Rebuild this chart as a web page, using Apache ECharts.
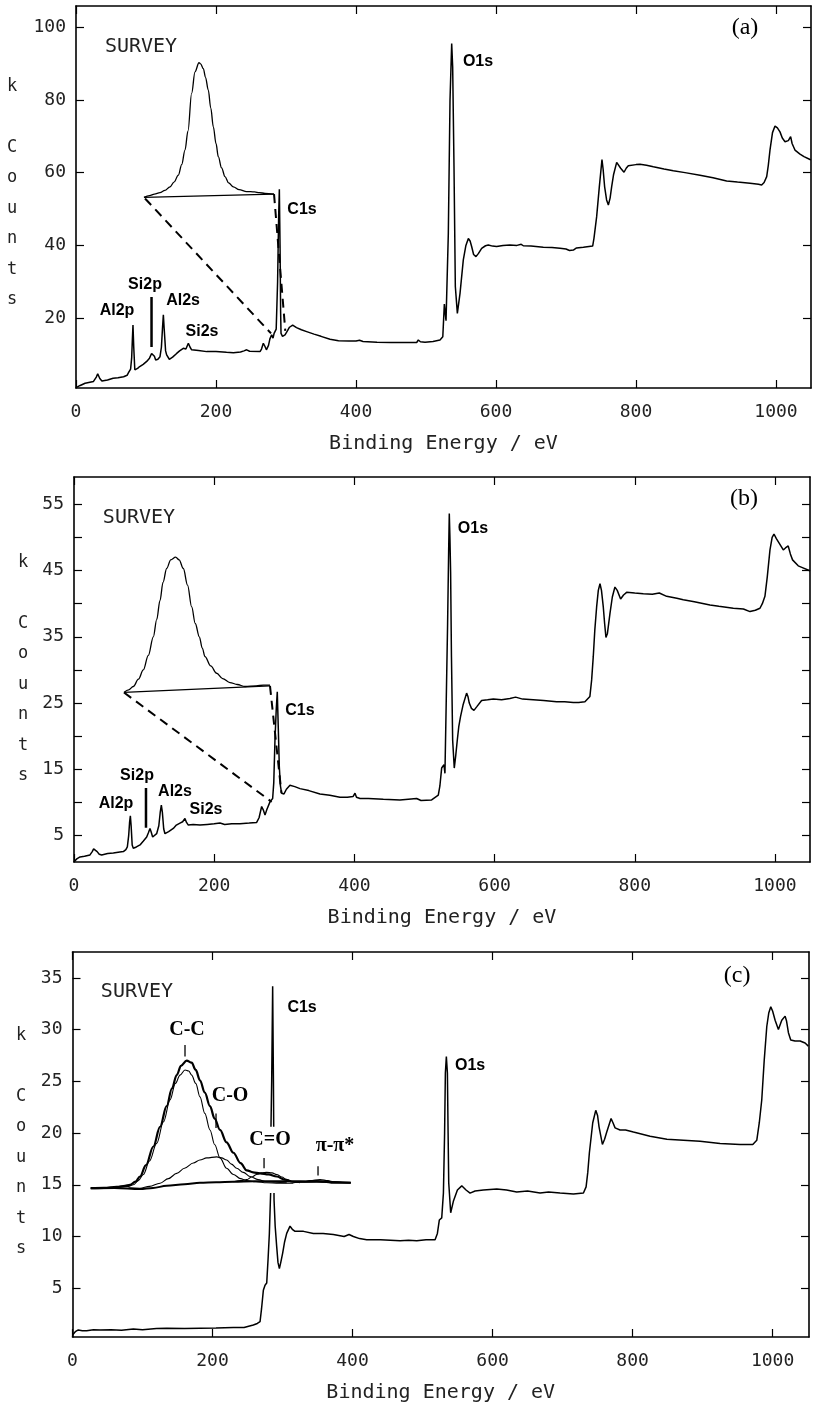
<!DOCTYPE html>
<html>
<head>
<meta charset="utf-8">
<title>XPS survey spectra</title>
<script src="https://cdn.jsdelivr.net/npm/echarts@6/dist/echarts.min.js"></script>
<style>
  html, body { margin: 0; padding: 0; background: #fff; }
  #chart { width: 815px; height: 1405px; }
</style>
</head>
<body>
<div id="chart"></div>
<script>
// tick values shared by the three panels
const xTicks = [0, 200, 400, 600, 800, 1000]
const yTicksA = [20, 40, 60, 80, 100]
const yTicksB = [5, 10, 15, 20, 25, 30, 35, 40, 45, 50, 55]
const yLabelsB = [5, 15, 25, 35, 45, 55]
const yTicksC = [5, 10, 15, 20, 25, 30, 35]

// ---- panel (a) : [binding energy eV, k counts]
const surveyA = [[0,0.9],[6,1.5],[13,2.1],[25,2.6],[29,3.8],[31,4.7],[34,3.4],[37,2.7],[45,3.0],[53,3.5],[60,3.6],[68,3.9],[73,4.3],[75,5.0],[78,6.0],[79.5,9],[80.5,14],[81.4,18.1],[82.5,12],[84,5.8],[88,6.2],[91,6.7],[96,7.3],[101,8.1],[105,9.0],[108,10.3],[110.5,10.8],[112,9.5],[113.8,8.5],[117,8.7],[120,9.4],[122,12],[123.5,17],[124.8,20.9],[126,17],[128,11],[129.5,9.9],[133.3,8.7],[138,9.3],[143.8,10.3],[148,11.0],[153.3,11.7],[157,11.5],[160.5,13.1],[163,12.0],[165.2,11.3],[175,11.1],[186.7,10.8],[200,10.8],[215,10.6],[224.8,10.5],[235,10.7],[240,11.0],[243.8,11.3],[248,10.9],[262.9,10.8],[265,11.5],[267.6,13.1],[270,12.2],[272,11.3],[275,12.5],[277,14.3],[279.5,15.4],[281.5,14.5],[283,15.8],[286,17],[288,30],[289.5,48],[290.5,55.4],[291.5,40],[292.3,22],[292.9,15.8],[295,15.0],[298.6,15.4],[302,16.5],[305,17.5],[309.5,18.1],[315,17.4],[322,16.8],[329.5,16.3],[340,15.6],[350,15.0],[362.9,14.2],[375,13.8],[390,13.7],[400,13.7],[405,13.9],[410,13.6],[430,13.4],[450,13.3],[470,13.3],[478,13.3],[486.7,13.3],[489,14.0],[492,13.5],[498.6,13.4],[510,13.6],[520,14.0],[524,14.9],[526.2,23.9],[528.6,19.3],[531.9,43.3],[534.3,79.9],[536.7,95.5],[538.1,89.1],[540,61.6],[541.9,28.7],[544.8,21.3],[548.6,26.8],[553.3,36],[557,40],[560.5,41.9],[563,41.2],[565.2,39.7],[568,37.5],[571.4,36.9],[575,37.8],[579.5,39.2],[585,39.9],[589,40.1],[595,39.8],[600.9,39.7],[610,40.0],[619.9,40.1],[630,40.0],[636,40.3],[639,39.9],[650,39.8],[667.6,39.5],[680,39.4],[691.4,39.2],[700,39.0],[705,38.6],[710.5,38.7],[715,39.3],[724.8,39.5],[738.1,39.8],[740,42],[743.8,47.9],[747.6,56.1],[751.4,63.6],[753,61],[755.2,56.1],[758,52.5],[760.5,51.1],[763,53],[765.2,56.1],[768,59.5],[772.4,62.8],[775,62.5],[778.1,61.2],[782.9,60.1],[786,61.2],[789,61.9],[800,62.2],[805.7,62.3],[815,62.0],[824.8,61.6],[840,61.0],[853.3,60.5],[870,60.0],[891.4,59.3],[910,58.6],[929.5,57.7],[945,57.4],[962.9,57.1],[975,56.8],[979.5,56.6],[983,57.3],[986.7,58.9],[989,62],[991.4,66.2],[995,71],[998.6,72.8],[1002,72.3],[1005.7,71.2],[1009,69.5],[1012.9,68.5],[1017.6,68.8],[1020.9,69.9],[1023,68],[1027.1,66.2],[1034.3,65.1],[1040,64.4],[1048.6,63.6],[1050,63.5]]
const insetA = [[97.1,53.2],[105,53.7],[112,54.1],[120,54.5],[127,55.1],[134.3,56.1],[140,57.4],[146.2,59.3],[151,62.2],[155.7,66.2],[160,71.5],[165.2,81.8],[170,87.7],[175.7,90.2],[178,89.9],[181.9,88.6],[185,86.2],[189,82.7],[192.5,77.8],[196.2,72.6],[200,68],[203.3,64.4],[208,61.3],[212.9,58.9],[218,57.2],[224.8,56.1],[233,55.3],[243.8,54.8],[255,54.7],[262,54.5],[270,54.3],[282.9,54.1]]
const insetBaseA = [[97.1,53.2],[282.9,54.1]]
const dashLeftA = [[98.6,52.9],[278.6,15.8]]
const dashRightA = [[282.9,54.1],[299,16.5]]
const si2pMarkA = [[107.9,25.8],[107.9,12.1]]
const peakLabelsA = [[58.6,22.0,'Al2p'],[98.6,29.1,'Si2p'],[152.9,24.7,'Al2s'],[180,16.2,'Si2s'],[322.9,49.7,'C1s'],[574.3,90.4,'O1s']]
const surveyTagA = [[92.9,94.5,'SURVEY']]
const panelTagA = [[955.7,99.7,'(a)']]

// ---- panel (b)
const surveyB = [[0,1.08],[4,1.5],[8.6,1.8],[15,1.9],[22.8,2.1],[26,2.6],[28,3.0],[30,3.2],[33,2.6],[36,2.2],[39.5,2.1],[48,2.3],[56.1,2.4],[63,2.5],[70.4,2.6],[74,2.9],[76.1,3.3],[78,5],[79.3,7],[80.4,8.0],[81.5,6.5],[83,3.6],[84.6,3.1],[89,3.3],[94.2,3.6],[99,4.2],[103.7,4.8],[106,5.4],[108.4,6.1],[110,5.6],[112.2,4.8],[115,5.0],[117.9,5.3],[121,6.5],[123,8.5],[124.6,9.6],[126,8.6],[128,6.0],[129.8,5.3],[135,5.6],[141.7,6.1],[146,6.6],[151.2,6.9],[155,7.1],[158.3,7.6],[160.5,7.0],[163.1,6.6],[170,6.7],[179.7,6.6],[190,6.7],[200,6.8],[208.3,6.9],[215,6.7],[225,6.8],[236.8,6.8],[250,6.9],[260.6,7.0],[264,7.7],[267.7,9.4],[270,8.9],[272.5,8.1],[275,8.9],[279.6,10.1],[283.4,10.6],[285,13],[286.7,19.4],[288.5,24],[290,26.7],[291.5,21],[292.9,15.4],[294.5,12.5],[296.2,11.4],[299.6,11.3],[303,12.0],[308.1,12.6],[315,12.4],[322.4,12.1],[335,11.8],[350.9,11.3],[365,11.1],[379.4,10.8],[390,10.8],[398,10.9],[400.9,11.4],[403,10.8],[408,10.6],[420,10.6],[441.3,10.5],[465,10.4],[488.8,10.6],[495,10.3],[510.2,10.4],[519.7,11.1],[522,12.5],[524.5,15.2],[527.8,15.7],[529.2,14.4],[531,25],[533,37],[534.5,48],[535.4,53.6],[536.3,50],[537.3,44.6],[538.5,32],[540.2,19.4],[542.5,15.2],[544.5,17],[546.8,19.4],[549,21.5],[551.5,23],[555,24.7],[560.1,26.5],[562,26],[563.9,25],[567,24.2],[570.6,23.9],[575,24.5],[581.5,25.4],[590,25.5],[598.2,25.6],[610,25.5],[621.9,25.7],[630,25.9],[640,25.6],[655.2,25.5],[670,25.4],[688.5,25.2],[700,25.2],[712.3,25.1],[720,25.1],[728.9,25.2],[736,26],[738.5,28.5],[740.8,32],[743,36],[745.6,39.5],[748,42],[750.4,43],[752.5,42],[755.1,39.5],[757,37],[758.9,34.9],[761,35.5],[764.6,38.5],[768,41],[771.7,42.5],[775,42],[779.8,40.7],[784,41.3],[788.4,41.7],[800,41.6],[812.2,41.5],[825,41.4],[835,41.6],[845.5,41.1],[860,40.8],[869.2,40.6],[885,40.3],[907.3,39.8],[920,39.6],[940.6,39.3],[955,39.2],[964.4,38.8],[972,39.0],[978.6,39.3],[982,40],[985.7,41.1],[989,44],[992.9,48.1],[996,50],[998.6,50.5],[1002,49.8],[1006.2,49.1],[1011.9,48.1],[1015,48.4],[1018.9,48.7],[1022,47.5],[1025.1,46.6],[1033.2,45.7],[1040,45.4],[1048.9,45],[1050,44.9]]
const insetB = [[71.3,26.6],[78,27.0],[84.6,27.5],[92,28.6],[98.9,30.0],[106,32.2],[113.2,35.0],[118,37.6],[122.7,40.5],[127,43.2],[132.2,45.3],[138,46.6],[145,47.0],[150,46.6],[156,45.3],[162,42.8],[167.9,39.5],[173,37.0],[178.8,35.0],[183,33.3],[186.9,32.0],[195,30.6],[203.5,29.5],[212,28.7],[222.5,28.1],[233,27.8],[243.9,27.5],[260,27.6],[270,27.7],[279.6,27.7]]
const insetBaseB = [[71.3,26.6],[279.6,27.6]]
const dashLeftB = [[71.3,26.6],[282,10.1]]
const dashRightB = [[279.6,27.6],[296,11.4]]
const si2pMarkB = [[102.7,12.2],[102.7,6.2]]
const peakLabelsB = [[59.9,9.8,'Al2p'],[89.9,14.0,'Si2p'],[144.1,11.6,'Al2s'],[188.3,8.9,'Si2s'],[322.4,23.8,'C1s'],[569.2,51.3,'O1s']]
const surveyTagB = [[92.7,52.9,'SURVEY']]
const panelTagB = [[955.8,55.8,'(b)']]

// ---- panel (c), the C1s spike is interrupted where it crosses the inset
const surveyLowC = [[0,0.48],[4,0.8],[8.3,0.97],[14,0.9],[20.2,0.9],[30,1.0],[39.3,0.97],[55,1.0],[70,0.95],[86.9,1.06],[100,1.0],[120,1.1],[134.5,1.13],[160,1.1],[182.1,1.13],[205,1.15],[229.8,1.22],[245,1.2],[258.3,1.45],[264,1.6],[267.9,1.77],[270,3.0],[272.6,4.8],[275,5.3],[277.4,5.5],[279.5,8],[281.2,10.3],[283.0,14.2]]
const c1sSpikeC = [[283.5,20.6],[284.5,25],[285.9,34.2],[287,25],[287.4,20.6]]
const surveyHighC = [[287.8,14.2],[287.9,13.5],[289.5,11],[291.7,9.0],[293.5,7.5],[295.5,6.9],[297.5,7.5],[300.2,8.4],[303,9.5],[305.95,10.3],[310.7,11.0],[314,10.7],[317.9,10.5],[330,10.5],[344,10.3],[358,10.3],[372.6,10.2],[388,10.0],[395,10.2],[401.2,10.0],[410,9.8],[420.2,9.7],[440,9.7],[467.9,9.6],[480,9.65],[491.7,9.6],[505,9.7],[517.9,9.7],[521.2,10.3],[524,11.6],[527.4,11.8],[529.8,14.2],[531.5,20],[532.6,25.8],[534.0,27.4],[535.5,25.8],[536.5,20],[537.4,15.2],[540.2,12.3],[544,13.4],[549.8,14.5],[556,14.9],[562.1,14.5],[567.9,14.2],[575,14.4],[586.9,14.5],[606,14.6],[620,14.5],[634.5,14.3],[650,14.4],[667.9,14.2],[680,14.3],[696.4,14.2],[715.5,14.1],[729.8,14.2],[733.6,14.8],[736,16.2],[738.3,18.1],[743.1,21.0],[747.4,22.2],[750,21.7],[752.1,20.6],[756.9,18.9],[760,19.4],[763.1,20.1],[769.3,21.4],[772,21],[775,20.5],[782.1,20.3],[790,20.3],[801.2,20.1],[825,19.7],[849,19.4],[872.6,19.3],[896.4,19.2],[925,19.0],[953.6,18.9],[971.7,18.9],[977.4,19.3],[981,21],[984.5,23.2],[988,27],[991.7,30.3],[994.5,31.6],[997.4,32.2],[1000,31.8],[1003.6,30.9],[1008.3,30.0],[1013.1,30.9],[1017.9,31.3],[1020,30.8],[1022.6,29.7],[1025.9,29.0],[1032,28.9],[1039.3,28.9],[1046.4,28.7],[1051,28.4]]
// C1s curve fit shown as inset
const envelopeC = [[26,14.67],[45,14.7],[63.1,14.8],[75,14.9],[82.1,15.0],[90,15.3],[96.4,15.8],[105,16.9],[115.5,18.7],[125,20.6],[134.5,22.6],[142,24.3],[148.8,25.6],[155,26.5],[163.1,27.0],[170.2,26.8],[176,26.1],[182.1,25.1],[189,23.9],[196.4,22.6],[203,21.4],[210.7,20.3],[220,19.1],[229.8,18.1],[240,17.1],[248.8,16.4],[258,16.2],[267.9,16.1],[280,16.0],[291.7,15.8],[303,15.5],[315.5,15.3],[330,15.3],[348.8,15.35],[360,15.3],[372.6,15.2],[385,15.2],[397.4,15.2]]
const ccC = [[26,14.67],[50,14.7],[67.9,14.76],[80,14.85],[86.9,15.0],[94,15.4],[101.2,16.0],[110,17.3],[120.2,19.0],[130,21.1],[139.3,23.2],[147,24.8],[153.6,25.6],[160.7,26.1],[166,26.0],[170.2,25.6],[176,24.8],[182.1,23.5],[189,21.9],[196.4,20.3],[203,18.9],[210.7,17.6],[220,16.6],[229.8,16.0],[240,15.6],[248.8,15.4],[262,15.3],[277.4,15.2],[295,15.15],[315.5,15.15]]
const coC = [[80,14.7],[96.4,14.67],[110,14.85],[125,15.15],[137,15.6],[148.8,16.1],[160,16.6],[172.6,17.1],[182,17.4],[191.7,17.6],[206,17.7],[213,17.6],[220.2,17.4],[227,17.0],[234.5,16.6],[244,16.2],[253.6,15.8],[265,15.5],[277.4,15.3],[290,15.25],[306,15.2]]
const cdoC = [[229.8,15.3],[240,15.4],[248.8,15.5],[256,15.75],[263.1,16.0],[270,16.15],[277.4,16.2],[285,16.15],[291.7,16.0],[299,15.75],[306,15.5],[315,15.3],[324.8,15.2]]
const piC = [[315.5,15.2],[330,15.3],[339.3,15.4],[353.6,15.5],[365,15.4],[372.6,15.3],[385,15.22],[397.4,15.2]]
const bgC = [[26,14.67],[60,14.7],[96.4,14.6],[115,14.7],[134.5,14.9],[160,15.05],[182.1,15.2],[205,15.25],[229.8,15.3],[260,15.35],[300,15.35],[350,15.3],[397.4,15.2]]
const fitMarksC = [[[160.7,28.5],[160.7,27.4]], [[205,21.9],[205,20.5]], [[273.6,17.6],[273.6,16.6]], [[350.7,16.8],[350.7,15.9]]]
const peakLabelsC = [[327.9,32.1,'C1s'],[567.9,26.5,'O1s']]
const fitLabelsC = [[163.6,30.0,'C-C'],[225,23.6,'C-O'],[282.1,19.3,'C=O'],[375,18.8,'π-π*']]
const surveyTagC = [[92.1,33.7,'SURVEY']]
const panelTagC = [[949.3,35.2,'(c)']]

const MONO = 'DejaVu Sans Mono'
const SANS = 'Liberation Sans'
const SERIF = 'Liberation Serif'

let panels = [
  { grid: { left: 76, top: 6, width: 735, height: 382 }, xMax: 1050, yMin: 0.8, yMax: 105.8, yTicks: yTicksA, yLabels: yTicksA, letters: [12, 193] },
  { grid: { left: 74, top: 477, width: 736, height: 385 }, xMax: 1050, yMin: 1.03, yMax: 59.1, yTicks: yTicksB, yLabels: yLabelsB, letters: [23, 669] },
  { grid: { left: 72.5, top: 952, width: 736.5, height: 385 }, xMax: 1052, yMin: 0.29, yMax: 37.5, yTicks: yTicksC, yLabels: yTicksC, letters: [21, 1142] }
]

let grid = []
let xAxis = []
let yAxis = []
let series = []
let graphic = []

function frameLine() {
  return { show: true, onZero: false, lineStyle: { color: '#000', width: 1.6 } }
}

function innerTick(values) {
  return { show: true, inside: true, length: 8, customValues: values, lineStyle: { color: '#000', width: 1.2 } }
}

function plain(v) {
  return String(v)
}

function buildPanel(i, p) {
  grid.push(Object.assign({ containLabel: false }, p.grid))
  xAxis.push({
    gridIndex: i, type: 'value', position: 'bottom', min: 0, max: p.xMax,
    axisLine: frameLine(), axisTick: innerTick(xTicks), splitLine: { show: false },
    axisLabel: { customValues: xTicks, formatter: plain, fontFamily: MONO, fontSize: 18, color: '#222', margin: 15 },
    name: 'Binding Energy / eV', nameLocation: 'middle', nameGap: 46,
    nameTextStyle: { fontFamily: MONO, fontSize: 20, color: '#222' }
  })
  xAxis.push({
    gridIndex: i, type: 'value', position: 'top', min: 0, max: p.xMax,
    axisLine: frameLine(), axisTick: innerTick(xTicks), axisLabel: { show: false }, splitLine: { show: false }
  })
  yAxis.push({
    gridIndex: i, type: 'value', position: 'left', min: p.yMin, max: p.yMax,
    axisLine: frameLine(), axisTick: innerTick(p.yTicks), splitLine: { show: false },
    axisLabel: { customValues: p.yLabels, formatter: plain, fontFamily: MONO, fontSize: 18, color: '#222', margin: 10 }
  })
  yAxis.push({
    gridIndex: i, type: 'value', position: 'right', min: p.yMin, max: p.yMax,
    axisLine: frameLine(), axisTick: innerTick(p.yTicks), axisLabel: { show: false }, splitLine: { show: false }
  })
  graphic.push({
    type: 'text', x: p.letters[0], y: p.letters[1], silent: true,
    style: { text: 'k\n\nC\no\nu\nn\nt\ns', font: '17px "' + MONO + '"', fill: '#222', align: 'center', verticalAlign: 'middle', lineHeight: 30.5 }
  })
}

function line(i, data, width, extra) {
  return Object.assign({
    type: 'line', xAxisIndex: i * 2, yAxisIndex: i * 2, data: data,
    symbol: 'none', silent: true, animation: false, z: 3,
    lineStyle: { color: '#000', width: width }
  }, extra || {})
}

function dashed(i, data) {
  return line(i, data, 2, { lineStyle: { color: '#000', width: 2, type: [9, 6] } })
}

function smoothLine(i, data, width) {
  return line(i, data, width, { smooth: 0.35, smoothMonotone: 'x' })
}

// text annotations anchored at data coordinates
function texts(i, data, font) {
  return {
    type: 'scatter', xAxisIndex: i * 2, yAxisIndex: i * 2, data: data,
    symbol: 'circle', symbolSize: 0.01, silent: true, animation: false, z: 5,
    itemStyle: { color: '#000', opacity: 1 },
    label: Object.assign({
      show: true, position: [0, 0], align: 'center', verticalAlign: 'middle',
      color: '#000', textBorderWidth: 0, opacity: 1,
      formatter: function (p) { return p.value[2] }
    }, font)
  }
}

const peakFont = { fontFamily: SANS, fontSize: 16, fontWeight: 'bold' }
const surveyFont = { fontFamily: MONO, fontSize: 20, color: '#222' }
const tagFont = { fontFamily: SERIF, fontSize: 24 }
const fitFont = { fontFamily: SERIF, fontSize: 20, fontWeight: 'bold' }

panels.forEach(function (p, i) { buildPanel(i, p) })

// (a)
series.push(line(0, surveyA, 1.5))
series.push(smoothLine(0, insetA, 1.3))
series.push(line(0, insetBaseA, 1.3))
series.push(dashed(0, dashLeftA))
series.push(dashed(0, dashRightA))
series.push(line(0, si2pMarkA, 2.5))
series.push(texts(0, peakLabelsA, peakFont))
series.push(texts(0, surveyTagA, surveyFont))
series.push(texts(0, panelTagA, tagFont))

// (b)
series.push(line(1, surveyB, 1.5))
series.push(smoothLine(1, insetB, 1.3))
series.push(line(1, insetBaseB, 1.3))
series.push(dashed(1, dashLeftB))
series.push(dashed(1, dashRightB))
series.push(line(1, si2pMarkB, 2.5))
series.push(texts(1, peakLabelsB, peakFont))
series.push(texts(1, surveyTagB, surveyFont))
series.push(texts(1, panelTagB, tagFont))

// (c)
series.push(line(2, surveyLowC, 1.5))
series.push(line(2, c1sSpikeC, 1.5))
series.push(line(2, surveyHighC, 1.5))
series.push(smoothLine(2, bgC, 2))
series.push(smoothLine(2, ccC, 1.1))
series.push(smoothLine(2, coC, 1.1))
series.push(smoothLine(2, cdoC, 1.1))
series.push(smoothLine(2, piC, 1.1))
series.push(smoothLine(2, envelopeC, 2.2))
fitMarksC.forEach(function (m) { series.push(line(2, m, 1.3)) })
series.push(texts(2, peakLabelsC, peakFont))
series.push(texts(2, fitLabelsC, fitFont))
series.push(texts(2, surveyTagC, surveyFont))
series.push(texts(2, panelTagC, tagFont))

let myChart = echarts.init(document.getElementById('chart'), null, { renderer: 'canvas' })
myChart.setOption({
  animation: false,
  backgroundColor: '#fff',
  grid: grid,
  xAxis: xAxis,
  yAxis: yAxis,
  series: series,
  graphic: graphic
})
</script>
</body>
</html>
